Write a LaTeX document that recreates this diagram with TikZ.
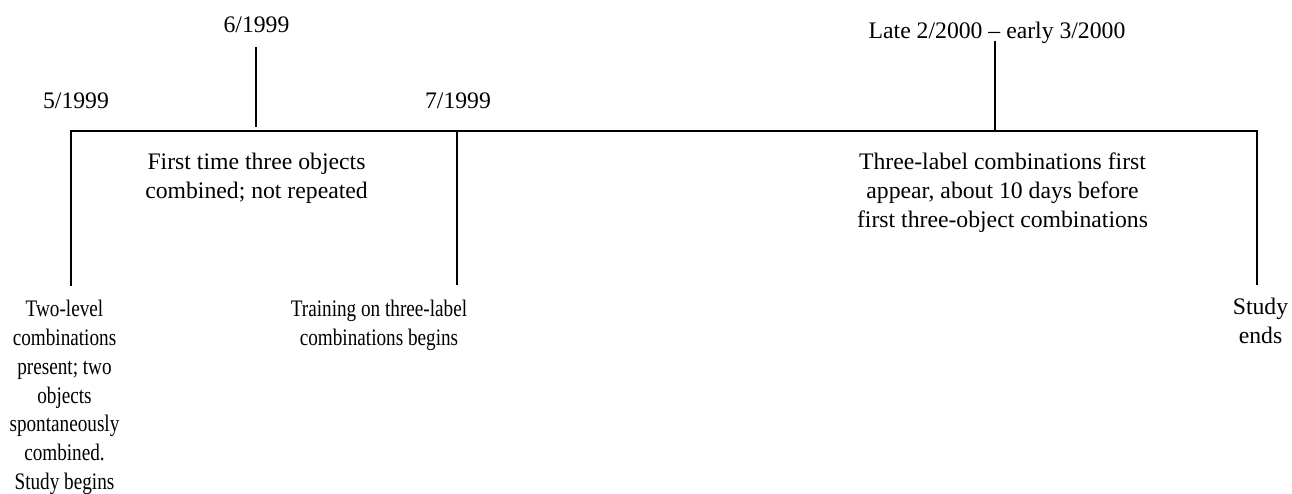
\documentclass[tikz,border=0pt]{standalone}
\usepackage{fontspec}
\setmainfont{Liberation Serif}
\newfontfamily\narrowfont[FakeStretch=0.81]{Liberation Serif}
\begin{document}
\begin{tikzpicture}[x=1pt,y=-1pt,
  axisline/.style={line width=2.8pt,line cap=butt},
  lbl/.style={inner sep=0pt,anchor=base,align=center,font=\fontsize{23.7}{28.8}\selectfont},
  nlbl/.style={lbl,font=\fontsize{23.7}{28.8}\selectfont\narrowfont}]
\useasboundingbox (0,0) rectangle (1292,493);
% timeline points
\coordinate (p1top) at (71,131);
\coordinate (p1bot) at (71,286);
\coordinate (p2top) at (256,47);
\coordinate (p2bot) at (256,127);
\coordinate (p3top) at (457,131);
\coordinate (p3bot) at (457,285);
\coordinate (p4top) at (995,41);
\coordinate (p4bot) at (995,131);
\coordinate (p5top) at (1257,131);
\coordinate (p5bot) at (1257,285);
% main line
\draw[axisline] (p1bot) -- (p1top) -- (p5top) -- (p5bot);
\draw[axisline] (p3top) -- (p3bot);
\draw[axisline] (p2top) -- (p2bot);
\draw[axisline] (p4top) -- (p4bot);
% date labels
\node[lbl] (d1) at (76,108) {5/1999};
\node[lbl] (d2) at (256.5,32) {6/1999};
\node[lbl] (d3) at (458,108) {7/1999};
\node[lbl] (d4) at (997,38) {Late 2/2000 – early 3/2000};
% event labels (base anchor = baseline of last line)
\node[lbl] (e2) at (256.5,198.5) {First time three objects\\combined; not repeated};
\node[lbl] (e4) at (1002.5,227.5) {Three-label combinations first\\appear, about 10 days before\\first three-object combinations};
\node[nlbl] (e1) at (64.5,489.5) {Two-level\\combinations\\present; two\\objects\\spontaneously\\combined.\\Study begins};
\node[nlbl] (e3) at (379,345.5) {Training on three-label\\combinations begins};
\node[lbl] (e5) at (1260.5,343) {Study\\ends};
\end{tikzpicture}
\end{document}
